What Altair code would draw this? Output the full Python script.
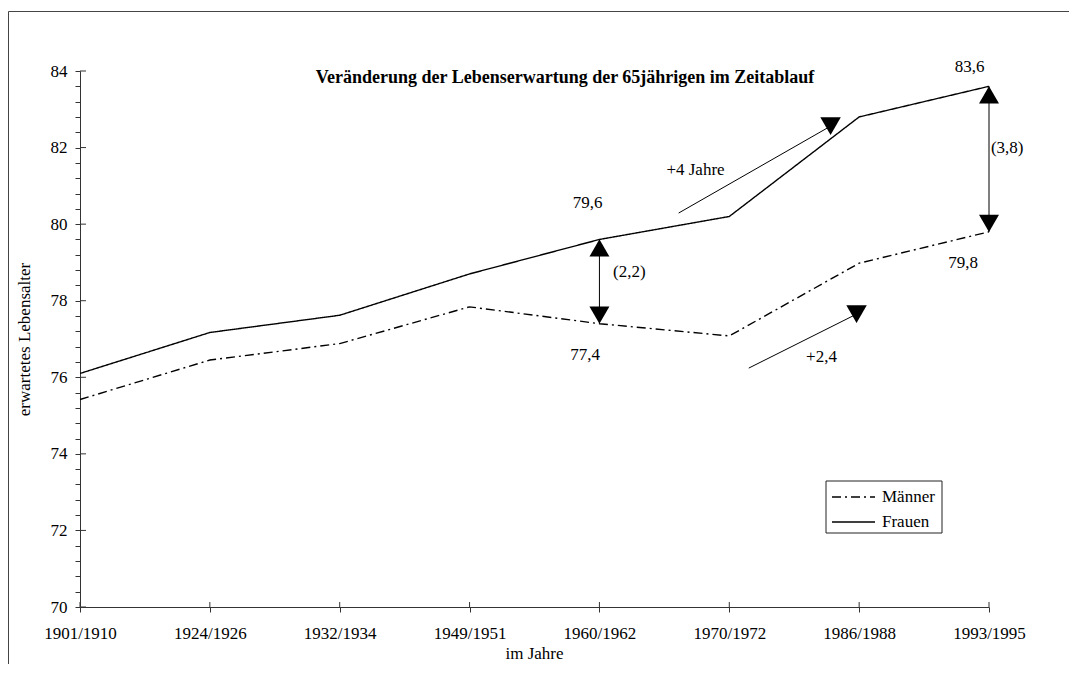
import json
import altair as alt
import pandas as pd

# ---------------- data ----------------
periods = ["1901/1910", "1924/1926", "1932/1934", "1949/1951",
           "1960/1962", "1970/1972", "1986/1988", "1993/1995"]
frauen = [76.1, 77.17, 77.62, 78.7, 79.6, 80.2, 82.8, 83.6]
maenner = [75.42, 76.45, 76.88, 77.84, 77.4, 77.08, 78.98, 79.8]
series_names = ["Männer", "Frauen"]

y_major = [70, 72, 74, 76, 78, 80, 82, 84]
y_minor = [round(70 + 0.4 * i, 1) for i in range(36)]

chart_title = "Veränderung der Lebenserwartung der 65jährigen im Zeitablauf"
x_title = "im Jahre"
y_title = "erwartetes Lebensalter"

# trend arrows: start/end (period index, value) and their labels
trend_text = ["+4 Jahre", "+2,4"]
trend_x0 = [4.61, 5.15]
trend_y0 = [80.29, 76.24]
trend_x1 = [5.78, 5.98]
trend_y1 = [82.56, 77.65]
trend_lx = [4.74, 5.71]
trend_ly = [81.41, 76.53]

# gap arrows at these period indices
gap_idx = [4, 7]
# label placement for gap annotations (index, value)
top_lx = [3.91, 6.85]
top_ly = [80.55, 84.10]
bot_lx = [3.89, 6.80]
bot_ly = [76.58, 78.98]
diff_lx = [4.23, 7.14]
diff_ly = [78.75, 81.99]

FONT = "Liberation Serif"
FS = 17
INK = "#000000"
AXC = "#333333"


def de(v):
    return f"{v:.1f}".replace(".", ",")


# ---------------- tables ----------------
rows = []
for i, p in enumerate(periods):
    rows.append({"idx": i, "val": maenner[i], "series": "Männer"})
    rows.append({"idx": i, "val": frauen[i], "series": "Frauen"})
lines_df = pd.DataFrame(rows)

gap_df = pd.DataFrame({
    "idx": gap_idx,
    "val": [frauen[i] for i in gap_idx],
    "val2": [maenner[i] for i in gap_idx],
})

notes = []
for k, i in enumerate(gap_idx):
    notes.append({"idx": top_lx[k], "val": top_ly[k], "txt": de(frauen[i])})
    notes.append({"idx": bot_lx[k], "val": bot_ly[k], "txt": de(maenner[i])})
    notes.append({"idx": diff_lx[k], "val": diff_ly[k],
                  "txt": "(" + de(frauen[i] - maenner[i]) + ")"})
for k, t in enumerate(trend_text):
    notes.append({"idx": trend_lx[k], "val": trend_ly[k], "txt": t})
notes_df = pd.DataFrame(notes)

trend_df = pd.DataFrame({"idx": trend_x0, "val": trend_y0,
                         "idx2": trend_x1, "val2": trend_y1})
trend_head_df = pd.DataFrame({"idx": trend_x1, "val": trend_y1})

one = pd.DataFrame({"k": [0]})
major_df = pd.DataFrame({"val": y_major})
xt_df = pd.DataFrame({"idx": list(range(len(periods)))})

# ---------------- scales / axes ----------------
xscale = alt.Scale(domain=[0, len(periods) - 1], nice=False, zero=False)
yscale = alt.Scale(domain=[70, 84], nice=False, zero=False)
dash_scale = alt.Scale(domain=series_names, range=[[9, 4, 2, 4], [1, 0]])

label_arr = json.dumps(periods)
x_axis = alt.Axis(
    values=list(range(len(periods))),
    labelExpr=f"{label_arr}[datum.value]",
    grid=False, tickSize=5, labelPadding=13, labelFont=FONT, labelFontSize=FS,
    labelColor=INK, domainColor=AXC, tickColor=AXC, labelFlush=False,
    labelOverlap=False,
    title=x_title, titleFont=FONT, titleFontSize=FS, titleFontWeight="normal",
    titleColor=INK, titleX=454, titleY=46, titleBaseline="middle",
)
y_axis = alt.Axis(
    values=y_minor,
    labelExpr="abs(datum.value - round(datum.value / 2) * 2) < 0.01 ? format(datum.value, 'd') : ''",
    grid=False, tickSize=5, labelPadding=8, labelFont=FONT, labelFontSize=FS,
    labelColor=INK, domainColor=AXC, tickColor=AXC, labelFlush=False,
    labelOverlap=False,
    title=y_title, titleFont=FONT, titleFontSize=FS, titleFontWeight="normal",
    titleColor=INK, titleX=-56, titleY=268, titleBaseline="middle", titleAngle=270,
)


def X(f="idx"):
    return alt.X(f"{f}:Q", scale=xscale, axis=x_axis, title=x_title)


def Y(f="val"):
    return alt.Y(f"{f}:Q", scale=yscale, axis=y_axis, title=y_title)


# ---------------- layers ----------------
lines = alt.Chart(lines_df).mark_line(color=INK, strokeWidth=1.4).encode(
    x=X(), y=Y(),
    strokeDash=alt.StrokeDash("series:N", scale=dash_scale, legend=None),
    detail="series:N",
)

major_ticks = alt.Chart(major_df).mark_rule(color=AXC, strokeWidth=1).encode(
    x=alt.value(0), x2=alt.value(6), y=Y()
)
x_ticks = alt.Chart(xt_df).mark_rule(color=AXC, strokeWidth=1).encode(
    x=X(), y=alt.value(531), y2=alt.value(536)
)

frame_top = alt.Chart(one).mark_rule(color="#444444", strokeWidth=1).encode(
    x=alt.value(-71.5), x2=alt.value(1000), y=alt.value(-59.5)
)
frame_left = alt.Chart(one).mark_rule(color="#444444", strokeWidth=1).encode(
    x=alt.value(-71.5), y=alt.value(-59.5), y2=alt.value(700)
)

gap_rules = alt.Chart(gap_df).mark_rule(color=INK, strokeWidth=1).encode(
    x=X(), y=Y(), y2=alt.Y2("val2:Q")
)
gap_up = alt.Chart(gap_df).mark_point(
    shape="triangle-up", filled=True, size=400, color=INK, opacity=1, yOffset=8.5
).encode(x=X(), y=Y())
gap_down = alt.Chart(gap_df).mark_point(
    shape="triangle-down", filled=True, size=400, color=INK, opacity=1, yOffset=-8.5
).encode(x=X(), y=Y("val2"))

trend_rules = alt.Chart(trend_df).mark_rule(color=INK, strokeWidth=1).encode(
    x=X(), y=Y(), x2=alt.X2("idx2:Q"), y2=alt.Y2("val2:Q")
)
trend_heads = alt.Chart(trend_head_df).mark_point(
    shape="triangle-down", filled=True, size=420, color=INK, opacity=1
).encode(x=X(), y=Y())

note_text = alt.Chart(notes_df).mark_text(
    font=FONT, fontSize=FS, color=INK, align="center", baseline="middle"
).encode(x=X(), y=Y(), text="txt:N")

title_mark = alt.Chart(one).mark_text(
    font=FONT, fontSize=18, fontWeight="bold", color=INK,
    align="center", baseline="middle"
).encode(x=alt.value(485), y=alt.value(7), text=alt.value(chart_title))

legend_box = alt.Chart(one).mark_rect(
    fill="white", stroke="#222222", strokeWidth=1
).encode(x=alt.value(746), x2=alt.value(862), y=alt.value(410), y2=alt.value(462))

legend_layers = [legend_box]
for i, name in enumerate(series_names):
    d = pd.DataFrame({"series": [name]})
    legend_layers.append(
        alt.Chart(d).mark_rule(color=INK, strokeWidth=1.4).encode(
            x=alt.value(752), x2=alt.value(795), y=alt.value(426 + 25 * i),
            strokeDash=alt.StrokeDash("series:N", scale=dash_scale, legend=None),
        )
    )
    legend_layers.append(
        alt.Chart(d).mark_text(
            font=FONT, fontSize=FS, color=INK, align="left", baseline="middle"
        ).encode(x=alt.value(802), y=alt.value(426 + 25 * i), text="series:N")
    )

chart = alt.layer(
    lines, major_ticks, x_ticks, frame_top, frame_left,
    gap_rules, gap_up, gap_down, trend_rules, trend_heads,
    note_text, title_mark, *legend_layers
).properties(
    width=909, height=536,
    autosize=alt.AutoSizeParams(type="none"),
    padding={"left": 72, "top": 63, "right": 80, "bottom": 57},
    background="white",
).configure_view(strokeWidth=0)

chart.save("out.html", embed_options={"renderer": "svg", "actions": False})
